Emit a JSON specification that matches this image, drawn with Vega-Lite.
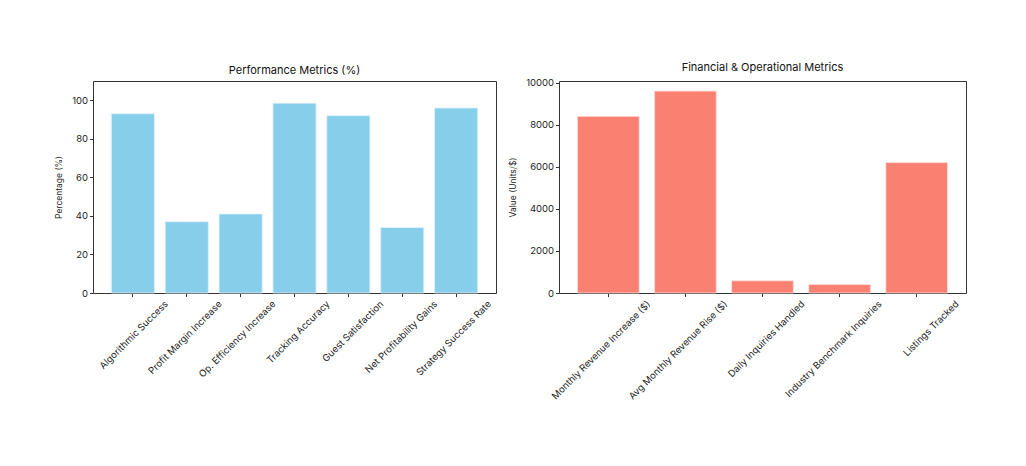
{
  "$schema": "https://vega.github.io/schema/vega-lite/v6.json",
  "background": "white",
  "padding": {"left": 54, "top": 61, "right": 0, "bottom": 0},
  "spacing": 11,
  "config": {
    "font": "Inter",
    "view": {"stroke": "#333333", "strokeWidth": 1},
    "axis": {
      "domain": false,
      "grid": false,
      "tickColor": "#333333",
      "tickSize": 3.5,
      "labelColor": "#222222",
      "labelFontSize": 9.5,
      "titleFontSize": 8.5,
      "titleFontWeight": "normal",
      "titleColor": "#222222",
      "labelPadding": 2
    },
    "title": {"fontSize": 11, "fontWeight": "normal", "color": "#111111", "offset": 5}
  },
  "hconcat": [
    {
      "title": "Performance Metrics (%)",
      "width": 403,
      "height": 212,
      "data": {
        "values": [
          {"metric": "Algorithmic Success", "value": 93},
          {"metric": "Profit Margin Increase", "value": 37},
          {"metric": "Op. Efficiency Increase", "value": 41},
          {"metric": "Tracking Accuracy", "value": 98.5},
          {"metric": "Guest Satisfaction", "value": 92},
          {"metric": "Net Profitability Gains", "value": 34},
          {"metric": "Strategy Success Rate", "value": 96}
        ]
      },
      "mark": {"type": "bar", "color": "#87CEEB", "stroke": "#dff2fa", "strokeWidth": 0.8},
      "encoding": {
        "x": {
          "field": "metric", "type": "nominal", "sort": null,
          "scale": {"paddingInner": 0.2, "paddingOuter": 0.34},
          "axis": {"title": null, "labelAngle": -45, "labelAlign": "right", "labelBaseline": "top", "labelOffset": 30}
        },
        "y": {
          "field": "value", "type": "quantitative",
          "scale": {"domain": [0, 110], "nice": false},
          "axis": {"title": "Percentage (%)", "values": [0, 20, 40, 60, 80, 100], "format": "d", "titlePadding": 8}
        }
      }
    },
    {
      "title": "Financial & Operational Metrics",
      "width": 407,
      "height": 212,
      "data": {
        "values": [
          {"metric": "Monthly Revenue Increase ($)", "value": 8400},
          {"metric": "Avg Monthly Revenue Rise ($)", "value": 9600},
          {"metric": "Daily Inquiries Handled", "value": 580},
          {"metric": "Industry Benchmark Inquiries", "value": 400},
          {"metric": "Listings Tracked", "value": 6200}
        ]
      },
      "mark": {"type": "bar", "color": "#FA8072", "stroke": "#fde0dc", "strokeWidth": 0.8},
      "encoding": {
        "x": {
          "field": "metric", "type": "nominal", "sort": null,
          "scale": {"paddingInner": 0.2, "paddingOuter": 0.24},
          "axis": {"title": null, "labelAngle": -45, "labelAlign": "right", "labelBaseline": "top", "labelOffset": 37}
        },
        "y": {
          "field": "value", "type": "quantitative",
          "scale": {"domain": [0, 10080], "nice": false},
          "axis": {"title": "Value (Units/$)", "values": [0, 2000, 4000, 6000, 8000, 10000], "format": "d", "titlePadding": 8}
        }
      }
    }
  ]
}
